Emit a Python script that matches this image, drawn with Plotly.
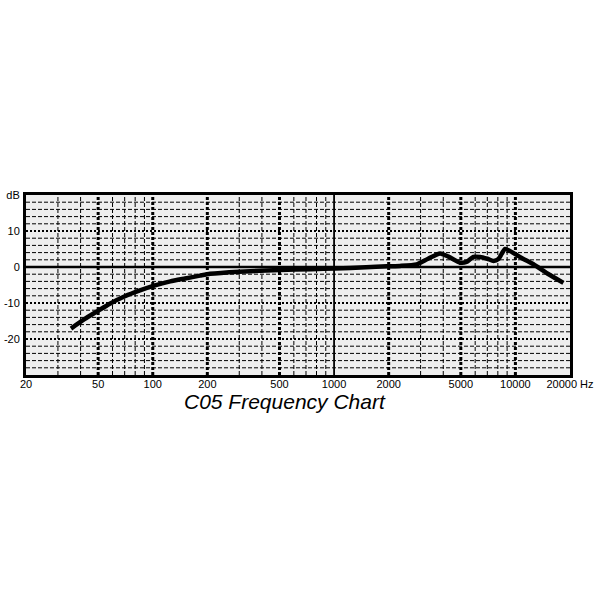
import plotly.graph_objects as go

# Frequency response data
freq_hz = [35.4, 42, 49.1, 58, 69.7, 85, 102.9, 125, 150.7, 182, 207, 300, 503, 750, 1012, 1500,
           1955, 2311, 2858, 3300, 3843, 4300, 4955, 5377, 5864, 6381, 7000, 7570, 8063, 8776,
           9956, 11000, 12570, 15000, 18400]
level_db = [-17.1, -14.5, -12.4, -10.2, -8.2, -6.5, -5.1, -4.0, -3.2, -2.4, -1.9, -1.3, -0.85, -0.6,
            -0.4, -0.1, 0.2, 0.3, 0.75, 2.3, 3.75, 2.8, 1.2, 1.4, 2.8, 2.8, 2.3, 1.7, 2.2, 5.0,
            3.6, 2.3, 0.75, -1.8, -4.4]

# Axis ticks / grid
x_tick_vals = [20, 50, 100, 200, 500, 1000, 2000, 5000, 10000, 20000]
x_tick_text = ["20", "50", "100", "200", "500", "1000", "2000", "5000", "10000", "20000 Hz"]
y_tick_vals = [20, 10, 0, -10, -20]
y_tick_text = ["dB", "10", "0", "-10", "-20"]

x_major_dotted = [50, 100, 200, 500, 2000, 5000, 10000]
x_solid = [1000]
x_minor = [30, 40, 60, 70, 80, 90, 300, 400, 600, 700, 800, 900,
           3000, 4000, 6000, 7000, 8000, 9000]
y_minor = [18, 16, 14, 12, 8, 6, 4, 2, -2, -4, -6, -8, -12, -14, -16, -18,
           -22, -24, -26, -28]
y_major_dotted = [10, -10, -20]
y_solid = [0]

X_RANGE = (20, 20000)
Y_RANGE = (-30, 20)


def vlines(xs):
    px, py = [], []
    for v in xs:
        px += [v, v, None]
        py += [Y_RANGE[0], Y_RANGE[1], None]
    return px, py


def hlines(ys):
    px, py = [], []
    for v in ys:
        px += [X_RANGE[0], X_RANGE[1], None]
        py += [v, v, None]
    return px, py


fig = go.Figure()

def add_grid(px, py, width, dash):
    fig.add_trace(go.Scatter(x=px, y=py, mode="lines", hoverinfo="skip", showlegend=False,
                             line=dict(color="black", width=width, dash=dash)))

add_grid(*vlines(x_minor), 1, "4px,2px")
add_grid(*hlines(y_minor), 1, "4px,2px")
add_grid(*vlines(x_major_dotted), 3, "3px,2px")
add_grid(*hlines(y_major_dotted), 2.2, "2px,2px")
add_grid(*vlines(x_solid), 1.8, "solid")
add_grid(*hlines(y_solid), 2.5, "solid")

fig.add_trace(go.Scatter(x=freq_hz, y=level_db, mode="lines", showlegend=False,
                         line=dict(color="black", width=4.5, shape="spline", smoothing=0.6)))

fig.update_layout(
    width=600, height=600,
    margin=dict(l=26, r=30, t=195, b=225, autoexpand=False),
    paper_bgcolor="white",
    plot_bgcolor="#eeeeee",
    font=dict(family="Liberation Sans, Arial, sans-serif", size=11, color="black"),
    annotations=[dict(text="C05 Frequency Chart", x=0.476, y=-0.145, xref="paper", yref="paper",
                      showarrow=False, xanchor="center", yanchor="middle",
                      font=dict(family="Liberation Sans, Arial, sans-serif", size=21,
                                color="black", style="italic"))],
)
fig.update_xaxes(type="log", range=[1.30103, 4.30103], tickvals=x_tick_vals, ticktext=x_tick_text,
                 showgrid=False, zeroline=False, showline=True, linecolor="black", linewidth=3,
                 mirror=True, ticks="", ticklabelstandoff=-3, automargin=False)
fig.update_yaxes(range=list(Y_RANGE), tickvals=y_tick_vals, ticktext=y_tick_text,
                 showgrid=False, zeroline=False, showline=True, linecolor="black", linewidth=3,
                 mirror=True, ticks="", ticklabelstandoff=1, automargin=False)

fig.write_html("out.html", config={"displayModeBar": False},
               post_script="document.body.style.margin='0';document.body.style.overflow='hidden';")
